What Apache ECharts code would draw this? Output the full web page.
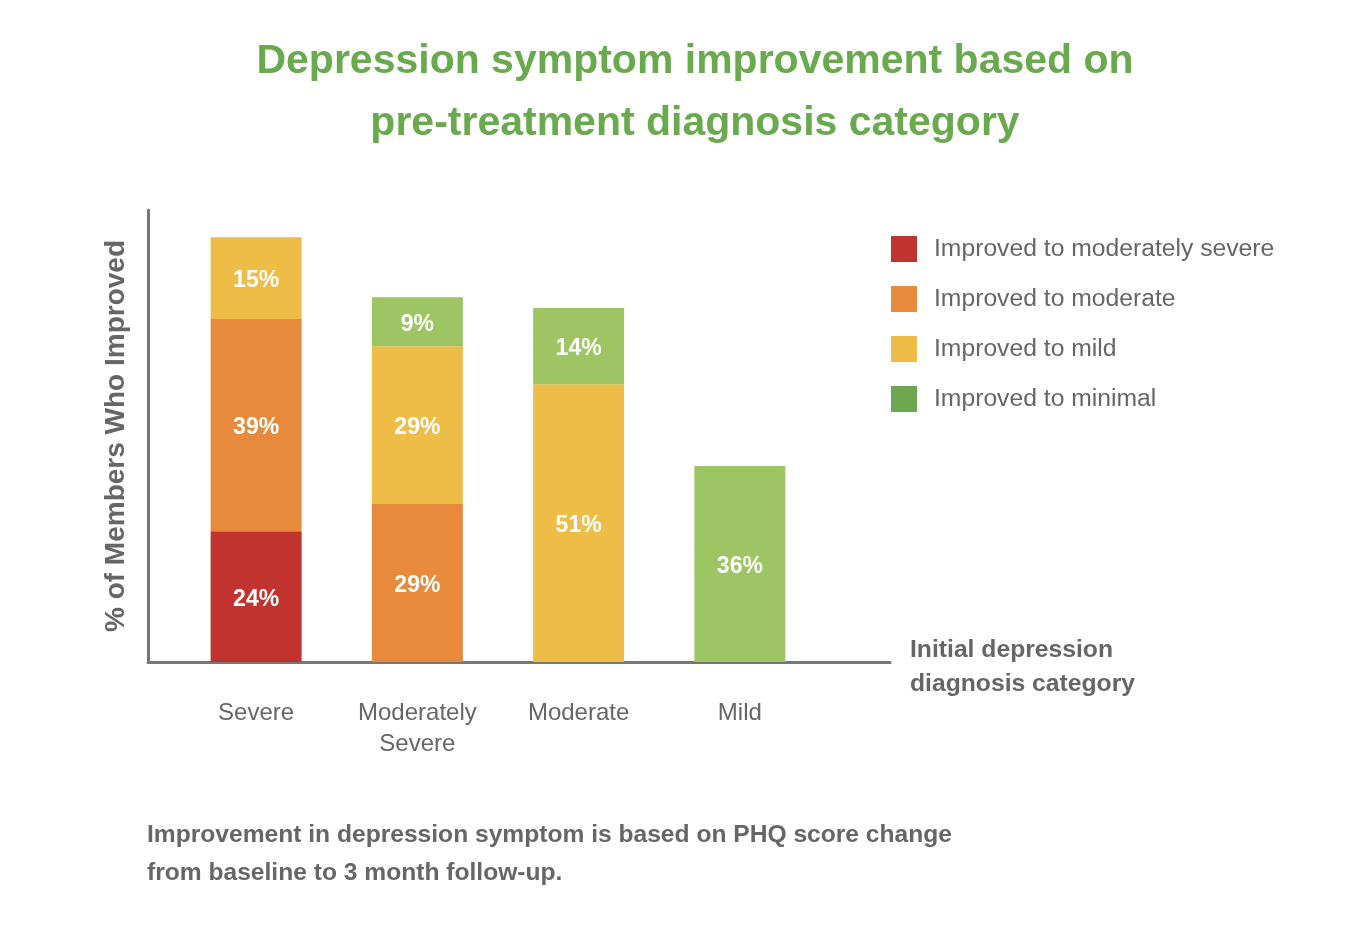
<!DOCTYPE html>
<html>
<head>
<meta charset="utf-8">
<script src="https://cdn.jsdelivr.net/npm/echarts@6/dist/echarts.min.js"></script>
<style>html,body{margin:0;padding:0;background:#fff;}#chart{width:1346px;height:942px;}</style>
</head>
<body>
<div id="chart"></div>
<script>
const categories = ['Severe', 'Moderately\nSevere', 'Moderate', 'Mild'];
const seriesNames = ['Improved to moderately severe', 'Improved to moderate', 'Improved to mild', 'Improved to minimal'];
const toModSevere = [24, null, null, null];
const toModerate = [39, 29, null, null];
const toMild = [15, 29, 51, null];
const toMinimal = [null, 9, 14, 36];
const titleText = 'Depression symptom improvement based on\npre-treatment diagnosis category';
const footnoteText = 'Improvement in depression symptom is based on PHQ score change\nfrom baseline to 3 month follow-up.';
const yAxisName = '% of Members Who Improved';
const xAxisNameLines = ['Initial depression', 'diagnosis category'];

const barColors = ['#C0332F', '#E88A3B', '#EDBD47', '#9DC563'];
const legendColors = ['#C0332F', '#E88A3B', '#EDBD47', '#6DA752'];
const values = [toModSevere, toModerate, toMild, toMinimal];
const FONT = '"Liberation Sans", Arial, Helvetica, sans-serif';

const chart = echarts.init(document.getElementById('chart'));
chart.setOption({
  backgroundColor: '#fff',
  textStyle: { fontFamily: FONT },
  title: [
    { text: titleText, left: 690, top: 26, textAlign: 'center',
      textStyle: { color: '#6AAA4F', fontSize: 41, fontWeight: 'bold', lineHeight: 62, fontFamily: FONT } },
    { text: footnoteText, left: 142, top: 811,
      textStyle: { color: '#666', fontSize: 24.6, fontWeight: 'bold', lineHeight: 38, fontFamily: FONT } }
  ],
  legend: {
    orient: 'vertical', left: 891, top: 236, padding: 0,
    itemWidth: 26, itemHeight: 26, itemGap: 24, icon: 'rect',
    selectedMode: false,
    textStyle: { color: '#666', fontSize: 24.7, fontFamily: FONT, padding: [0, 0, 0, 12] },
    data: seriesNames.map((n, i) => ({ name: n, itemStyle: { color: legendColors[i] } }))
  },
  grid: [
    { left: 148, top: 210, width: 742, height: 452 },
    { left: 175.5, top: 210, width: 645, height: 452 }
  ],
  xAxis: [
    { type: 'value', gridIndex: 0, min: 0, max: 1,
      axisLine: { show: true, onZero: false, lineStyle: { color: '#777', width: 3 } },
      axisTick: { show: false }, axisLabel: { show: false }, splitLine: { show: false },
      name: '{s|}\n' + xAxisNameLines.join('\n'), nameLocation: 'end', nameGap: 20,
      nameTextStyle: { color: '#666', fontSize: 24.7, fontWeight: 'bold', lineHeight: 34, align: 'left', verticalAlign: 'middle', fontFamily: FONT,
        rich: { s: { fontSize: 1, lineHeight: 10 } } } },
    { type: 'category', gridIndex: 1, data: categories,
      axisLine: { show: false }, axisTick: { show: false },
      axisLabel: { color: '#666', fontSize: 24, lineHeight: 31, margin: 36, interval: 0, fontFamily: FONT } }
  ],
  yAxis: [
    { type: 'value', gridIndex: 0, min: 0, max: 1,
      axisLine: { show: true, onZero: false, lineStyle: { color: '#777', width: 3 } },
      axisTick: { show: false }, axisLabel: { show: false }, splitLine: { show: false },
      name: yAxisName, nameLocation: 'middle', nameGap: 18, nameRotate: 90,
      nameTextStyle: { color: '#666', fontSize: 28, fontWeight: 'bold', fontFamily: FONT } },
    { type: 'value', gridIndex: 1, min: 0, max: 83, show: false }
  ],
  series: seriesNames.map((n, i) => ({
    name: n, type: 'bar', stack: 'total', xAxisIndex: 1, yAxisIndex: 1,
    barWidth: 91, data: values[i],
    itemStyle: { color: barColors[i] },
    label: { show: true, position: 'inside', offset: [0, 3], formatter: p => p.value + '%',
      color: '#fff', fontSize: 23, fontWeight: 'bold', fontFamily: FONT },
    emphasis: { disabled: true },
    animation: false
  }))
});
</script>
</body>
</html>
